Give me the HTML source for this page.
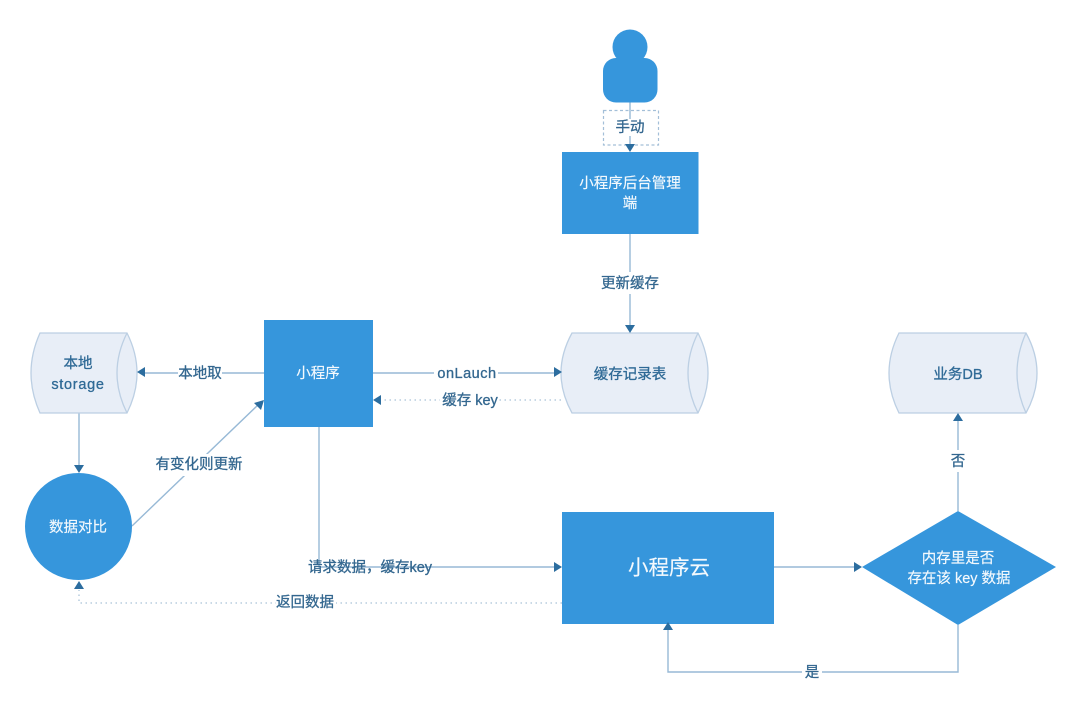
<!DOCTYPE html>
<html><head><meta charset="utf-8">
<style>
html,body{margin:0;padding:0;background:#fff}
svg{display:block;filter:blur(.35px)}
text{font-family:"Liberation Sans","Noto Sans CJK SC",sans-serif;font-size:14.500px;text-anchor:middle;dominant-baseline:central;stroke-width:.3px;transform:translateY(1px)}
.l{fill:#33678f;stroke:#33678f}
.n{fill:#2f6a96;stroke:#2f6a96}
.w{fill:#f4f9fd;stroke:#f4f9fd;stroke-width:.15px}
.c{fill:#e8eef7;stroke:#bccfe3;stroke-width:1.3}
.e{fill:none;stroke:#97b9d6;stroke-width:1.4}
.d{fill:none;stroke:#a9c2d8;stroke-width:1.3;stroke-dasharray:1.5 3.5}
.a{fill:#2c6d9f}
.bl{fill:#3696dc}
.bg{fill:#fff}
</style></head><body>
<svg width="1080" height="703" viewBox="0 0 1080 703" xmlns="http://www.w3.org/2000/svg">
<rect width="1080" height="703" fill="#fff"/>

<!-- connectors -->
<path class="e" d="M630 102V146"/>
<path class="e" d="M630 234V326"/>
<path class="e" d="M264 373H143"/>
<path class="e" d="M373 373H555"/>
<path class="d" d="M561 400H380"/>
<path class="e" d="M79 413V466"/>
<path class="e" d="M132 526L259 404"/>
<path class="e" d="M319 427V567H556"/>
<path class="d" d="M562 603H79V590"/>
<path class="e" d="M774 567H855"/>
<path class="e" d="M958 511V420"/>
<path class="e" d="M958 625V672H668V629"/>

<!-- person -->
<circle class="bl" cx="630" cy="47" r="17.5"/>
<rect class="bl" x="603" y="58" width="54.500" height="44.500" rx="13" ry="13"/>

<!-- manual label -->
<rect x="603.500" y="110.500" width="55" height="34.500" fill="none" stroke="#a3bfd8" stroke-width="1.200" stroke-dasharray="3 2.500"/>
<rect class="bg" x="614" y="119" width="32" height="17"/>
<text class="l" x="630" y="127">手动</text>

<!-- blue nodes -->
<rect class="bl" x="562" y="152" width="136.500" height="82"/>
<text class="w" x="630" y="183">小程序后台管理</text>
<text class="w" x="630" y="203">端</text>

<rect class="bl" x="264" y="320" width="109" height="107"/>
<text class="w" x="318" y="373">小程序</text>

<circle class="bl" cx="78.500" cy="526.500" r="53.500"/>
<text class="w" x="78" y="527">数据对比</text>

<rect class="bl" x="562" y="512" width="212" height="112"/>
<text class="w" x="669" y="567" style="font-size:20.500px">小程序云</text>

<path class="bl" d="M958 511L1056 567L958 625L862 567Z"/>
<text class="w" x="958" y="558">内存里是否</text>
<text class="w" x="959" y="578" xml:space="preserve">存在该 key 数据</text>

<!-- cylinders -->
<path class="c" d="M40 333H127Q147 373 127 413H40Q22 373 40 333Z"/>
<path class="c" d="M127 333Q107 373 127 413" fill="none"/>
<text class="n" x="78" y="363">本地</text>
<text class="n" x="78" y="384" style="letter-spacing:.7px">storage</text>

<path class="c" d="M572 333H698Q718 373 698 413H572Q550 373 572 333Z"/>
<path class="c" d="M698 333Q678 373 698 413" fill="none"/>
<text class="n" x="630" y="374">缓存记录表</text>

<path class="c" d="M899 333H1026Q1048 373 1026 413H899Q879 373 899 333Z"/>
<path class="c" d="M1026 333Q1008 373 1026 413" fill="none"/>
<text class="n" x="958" y="374">业务DB</text>

<!-- arrowheads -->
<path class="a" d="M630 152L625 144H635Z"/>
<path class="a" d="M630 333L625 325H635Z"/>
<path class="a" d="M137 372L145 367V377Z"/>
<path class="a" d="M562 372L554 367V377Z"/>
<path class="a" d="M373 400L381 395V405Z"/>
<path class="a" d="M79 473L74 465H84Z"/>
<path class="a" d="M264 400L254 403L261 410Z"/>
<path class="a" d="M562 567L554 562V572Z"/>
<path class="a" d="M79 581L74 589H84Z"/>
<path class="a" d="M862 567L854 562V572Z"/>
<path class="a" d="M958 413L953 421H963Z"/>
<path class="a" d="M668 622L663 630H673Z"/>

<!-- connector labels -->
<rect class="bg" x="601" y="272" width="58" height="22"/>
<text class="l" x="630" y="283">更新缓存</text>

<rect class="bg" x="178" y="364" width="44" height="18"/>
<text class="l" x="200" y="373">本地取</text>

<rect class="bg" x="434" y="364" width="64" height="18"/>
<text class="l" x="467" y="373" style="letter-spacing:.5px">onLauch</text>

<rect class="bg" x="440" y="391" width="58" height="18"/>
<text class="l" x="470" y="400" xml:space="preserve">缓存 key</text>

<rect class="bg" x="155" y="454" width="88" height="22"/>
<text class="l" x="199" y="464">有变化则更新</text>

<text class="l" x="370" y="567">请求数据，缓存key</text>

<rect class="bg" x="276" y="594" width="60" height="18"/>
<text class="l" x="305" y="602">返回数据</text>

<rect class="bg" x="948" y="450" width="20" height="22"/>
<text class="l" x="958" y="461">否</text>

<rect class="bg" x="802" y="664" width="20" height="18"/>
<text class="l" x="812" y="672">是</text>
</svg>
</body></html>
